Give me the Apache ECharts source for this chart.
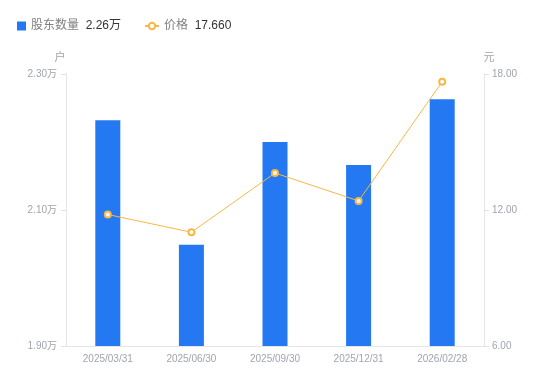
<!DOCTYPE html>
<html><head><meta charset="utf-8">
<script src="https://cdn.jsdelivr.net/npm/echarts@6/dist/echarts.min.js"></script>
<style>html,body{margin:0;padding:0;background:#fff}#c{width:550px;height:381px}</style>
</head><body><div id="c"></div>
<script>
const categories = ['2025/03/31','2025/06/30','2025/09/30','2025/12/31','2026/02/28'];
const holders = [2.232, 2.049, 2.200, 2.166, 2.263];
const prices = [11.80, 11.02, 13.63, 12.40, 17.66];
const leftTicks = [1.90, 2.30];
const rightTicks = [6, 18];
const FONT = '"Liberation Sans", "Noto Sans CJK SC", sans-serif';
const chart = echarts.init(document.getElementById('c'));
chart.setOption({
  animation: false,
  textStyle: {fontFamily: FONT},
  legend: [{
    left: 12, top: 15, icon: 'rect', itemWidth: 9, itemHeight: 9, itemGap: 20,
    data: ['股东数量'],
    formatter: n => '{a|' + n + '}  {b|' + holders[holders.length-1].toFixed(2) + '万}',
    textStyle: {rich: {a: {color: '#808080', fontSize: 12, fontFamily: FONT}, b: {color: '#333', fontSize: 12, fontFamily: FONT}}}
  }, {
    left: 139, top: 15, itemWidth: 14, itemHeight: 8,
    data: ['价格'],
    formatter: n => '{a|' + n + '}  {b|' + prices[prices.length-1].toFixed(3) + '}',
    textStyle: {rich: {a: {color: '#808080', fontSize: 12, fontFamily: FONT}, b: {color: '#333', fontSize: 12, fontFamily: FONT}}}
  }],
  grid: {left: 66, right: 66, top: 74, bottom: 35},
  xAxis: {
    type: 'category', data: categories,
    axisLine: {lineStyle: {color: '#e6e6e6'}},
    axisTick: {show: false},
    axisLabel: {color: '#a0a4b0', fontSize: 10, margin: 8}
  },
  yAxis: [{
    type: 'value', name: '户', min: leftTicks[0], max: leftTicks[1], interval: 0.2,
    nameTextStyle: {color: '#a0a4b0', fontSize: 11, padding: [0, 0, 0, -12]},
    nameGap: 11,
    axisLine: {show: true, lineStyle: {color: '#e6e6e6'}},
    axisTick: {show: true, length: 5, lineStyle: {color: '#e0e0e0'}},
    splitLine: {show: false},
    axisLabel: {color: '#a0a4b0', fontSize: 10, margin: 9, formatter: v => v.toFixed(2) + '万'}
  }, {
    type: 'value', name: '元', min: rightTicks[0], max: rightTicks[1], interval: 6,
    nameTextStyle: {color: '#a0a4b0', fontSize: 11, padding: [0, 0, 0, 10]},
    nameGap: 11,
    axisLine: {show: true, lineStyle: {color: '#e6e6e6'}},
    axisTick: {show: true, length: 5, lineStyle: {color: '#e0e0e0'}},
    splitLine: {show: false},
    axisLabel: {color: '#a0a4b0', fontSize: 10, margin: 8, formatter: v => v.toFixed(2)}
  }],
  series: [{
    name: '股东数量', type: 'bar', data: holders, yAxisIndex: 0, barWidth: 25,
    itemStyle: {color: '#2478f2'}
  }, {
    name: '价格', type: 'line', data: prices, yAxisIndex: 1,
    symbol: 'emptyCircle', symbolSize: 6,
    lineStyle: {color: '#f9b744', width: 1},
    itemStyle: {color: '#f9b744', borderWidth: 1.5}
  }]
});
</script></body></html>
